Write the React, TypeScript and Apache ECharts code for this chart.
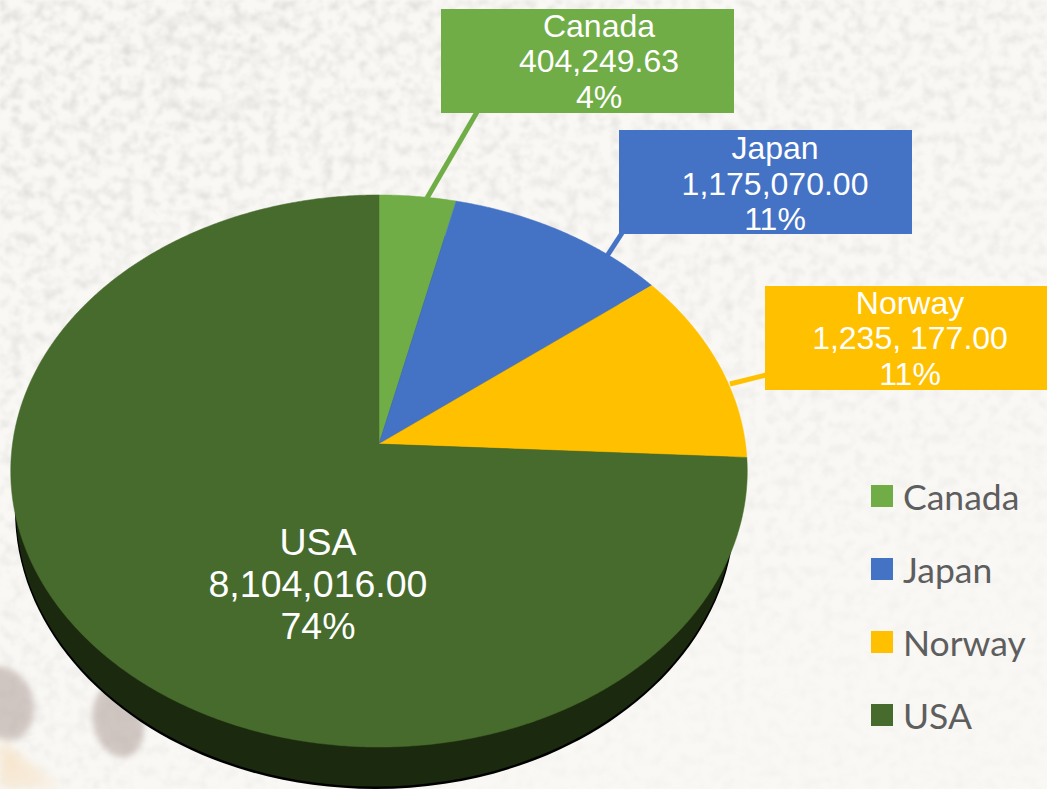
import React, { useEffect, useRef } from "react";
import * as echarts from "echarts";

const categories = ["Canada", "Japan", "Norway", "USA"];
const values = [404249.63, 1175070, 1235177, 8104016];
const valueLabels = ["404,249.63", "1,175,070.00", "1,235, 177.00", "8,104,016.00"];
const percentLabels = ["4%", "11%", "11%", "74%"];
const colors = ["#70AD47", "#4472C4", "#FFC000", "#466B2C"];

// Projection of the tilted disc
const apexX = 379;
const apexY = 444;
const radiusX = 366.5;
const radiusY = 273.4;
const tilt = 0.0978;

const project = (angle: number): number[] => {
  const u = Math.sin(angle);
  const v = Math.cos(angle);
  const d = 1 + tilt * v;
  return [apexX + (radiusX * u) / d, apexY - (radiusY * v) / d];
};

const total = values.reduce((a, b) => a + b, 0);

const sliceElement = (index: number) => {
  const before = values.slice(0, index).reduce((a, b) => a + b, 0);
  const start = (before / total) * Math.PI * 2;
  const end = ((before + values[index]) / total) * Math.PI * 2;
  const steps = Math.max(2, Math.ceil((end - start) / 0.006));
  const points: number[][] = [[apexX, apexY]];
  for (let i = 0; i <= steps; i++) points.push(project(start + ((end - start) * i) / steps));
  return {
    type: "polygon",
    shape: { points },
    style: { fill: colors[index], stroke: colors[index], lineWidth: 0.5 },
  };
};

const calloutLayout = [
  { box: [441, 9, 293, 104], textX: 599, lineYs: [26, 61, 97], size: 32, leader: [[427, 198], [477, 112]], leaderWidth: 5 },
  { box: [619, 130, 293, 104], textX: 775, lineYs: [148, 184, 219], size: 32, leader: [[607, 256], [622, 233]], leaderWidth: 5 },
  { box: [765, 286, 293, 104], textX: 910, lineYs: [303, 338, 374], size: 32, leader: [[730, 384], [766, 375]], leaderWidth: 5 },
  { box: null, textX: 318, lineYs: [542, 584, 626], size: 37.5, leader: null, leaderWidth: 0 },
];

const labelElements = (index: number) => {
  const c = calloutLayout[index];
  const out: any[] = [];
  if (c.leader) {
    out.push({
      type: "line",
      shape: { x1: c.leader[0][0], y1: c.leader[0][1], x2: c.leader[1][0], y2: c.leader[1][1] },
      style: { stroke: colors[index], lineWidth: c.leaderWidth },
    });
  }
  if (c.box) {
    out.push({
      type: "rect",
      shape: { x: c.box[0], y: c.box[1], width: c.box[2], height: c.box[3] },
      style: { fill: colors[index] },
    });
  }
  [categories[index], valueLabels[index], percentLabels[index]].forEach((text, i) => {
    out.push({
      type: "text",
      style: {
        text,
        x: c.textX,
        y: c.lineYs[i],
        fill: "#ffffff",
        fontFamily: "Liberation Sans",
        fontSize: c.size,
        textAlign: "center",
        textVerticalAlign: "middle",
      },
    });
  });
  return out;
};

const App = () => {
  const ref = useRef<HTMLDivElement>(null);
  useEffect(() => {
    document.body.style.margin = "0";
    const chart = echarts.init(ref.current!, undefined, { renderer: "svg" });
    chart.setOption({
      animation: false,
      backgroundColor: "transparent",
      legend: {
        data: categories,
        orient: "vertical",
        left: 871,
        top: 478,
        padding: 0,
        itemWidth: 22,
        itemHeight: 22,
        itemGap: 37,
        icon: "rect",
        selectedMode: false,
        textStyle: { color: "#5e5e5e", fontFamily: "Lato", fontSize: 35.5, padding: [0, 0, 0, 5] },
      },
      series: [
        {
          type: "custom",
          name: "side",
          coordinateSystem: "none",
          silent: true,
          data: [[1]],
          renderItem: () => ({
            type: "group",
            children: [
              { type: "ellipse", shape: { cx: 375, cy: 510, rx: 360, ry: 279 }, style: { fill: "#000000" } },
              { type: "ellipse", shape: { cx: 375, cy: 508.5, rx: 359, ry: 278 }, style: { fill: "#1B2A0E" } },
            ],
          }),
        },
        ...categories.map((name, index) => ({
          type: "custom",
          name,
          coordinateSystem: "none",
          silent: true,
          itemStyle: { color: colors[index] },
          data: [[values[index]]],
          renderItem: () => ({
            type: "group",
            children: [sliceElement(index), ...labelElements(index)],
          }),
        })),
      ],
    });
    return () => chart.dispose();
  }, []);

  return (
    <div style={{ position: "fixed", left: 0, top: 0, width: 1047, height: 789, overflow: "hidden", background: "#f9f8f5" }}>
      <svg width={1047} height={789} style={{ position: "absolute", left: 0, top: 0 }}>
        <defs>
          <filter id="stone" x="0" y="0" width="100%" height="100%">
            <feTurbulence type="fractalNoise" baseFrequency="0.09" numOctaves={3} seed={11} />
            <feColorMatrix type="matrix" values="0 0 0 0 0.58  0 0 0 0 0.56  0 0 0 0 0.53  1.6 0 0 0 -0.68" />
            <feGaussianBlur stdDeviation={1} />
          </filter>
          <linearGradient id="fade" x1="0" y1="0" x2="0.5" y2="1">
            <stop offset="0" stopColor="#fff" stopOpacity={0.75} />
            <stop offset="0.4" stopColor="#fff" stopOpacity={0.5} />
            <stop offset="1" stopColor="#fff" stopOpacity={0.12} />
          </linearGradient>
          <mask id="fadeMask">
            <rect width={1047} height={789} fill="url(#fade)" />
          </mask>
          <filter id="soft"><feGaussianBlur stdDeviation={3} /></filter>
          <filter id="soft2"><feGaussianBlur stdDeviation={6} /></filter>
          <linearGradient id="wood" x1="0" y1="0" x2="1" y2="1">
            <stop offset="0" stopColor="#f6e2c6" />
            <stop offset="1" stopColor="#f8f0e4" />
          </linearGradient>
        </defs>
        <rect width={1047} height={789} filter="url(#stone)" mask="url(#fadeMask)" />
        <g fill="none" stroke="#d8d5cf" strokeWidth={2} opacity={0.7} filter="url(#soft)">
          <path d="M140 20 L290 22 M142 30 L180 110 L195 118 L265 95 M150 40 L260 50 L250 90" />
        </g>
        <polygon points="0,740 64,789 0,789" fill="url(#wood)" filter="url(#soft2)" />
        <ellipse cx={4} cy={703} rx={29} ry={38} transform="rotate(-20 4 703)" fill="#a9968f" opacity={0.5} filter="url(#soft)" />
        <ellipse cx={118} cy={722} rx={25} ry={36} transform="rotate(-15 118 722)" fill="#a9968f" opacity={0.5} filter="url(#soft)" />
      </svg>
      <div ref={ref} style={{ position: "absolute", left: 0, top: 0, width: 1047, height: 789 }} />
    </div>
  );
};

export default App;
